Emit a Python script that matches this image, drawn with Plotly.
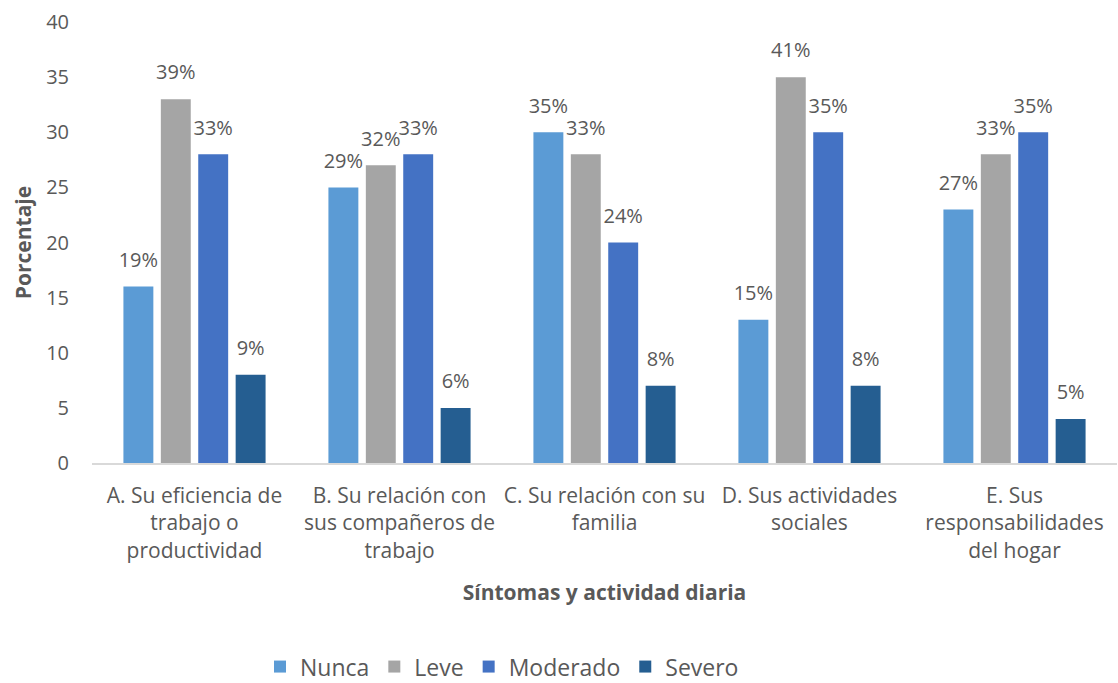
import plotly.graph_objects as go

categorias = [
    "A. Su eficiencia de<br>trabajo o<br>productividad",
    "B. Su relación con<br>sus compañeros de<br>trabajo",
    "C. Su relación con su<br>familia",
    "D. Sus actividades<br>sociales",
    "E. Sus<br>responsabilidades<br>del hogar",
]
nunca = [16, 25, 30, 13, 23]
leve = [33, 27, 28, 35, 28]
moderado = [28, 28, 20, 30, 30]
severo = [8, 5, 7, 7, 4]

series = [
    ("Nunca", nunca, "#5B9BD5"),
    ("Leve", leve, "#A5A5A5"),
    ("Moderado", moderado, "#4472C4"),
    ("Severo", severo, "#255E91"),
]

totales = [sum(v) for v in zip(nunca, leve, moderado, severo)]

FONT = "Open Sans"
GRIS = "#595959"

fig = go.Figure()
for nombre, valores, color in series:
    fig.add_trace(go.Bar(
        name=nombre,
        x=categorias,
        y=valores,
        offsetgroup=nombre,
        marker=dict(color=color, line=dict(width=0)),
    ))

# percentage labels, lifted slightly above each bar by an invisible marker
for nombre, valores, color in series:
    etiquetas = [f"{round(v / t * 100)}%" for v, t in zip(valores, totales)]
    fig.add_trace(go.Scatter(
        x=categorias,
        y=valores,
        offsetgroup=nombre,
        mode="markers+text",
        marker=dict(size=22, opacity=0),
        text=etiquetas,
        textposition="top center",
        textfont=dict(family=FONT, size=20, color=GRIS),
        showlegend=False,
        hoverinfo="skip",
        cliponaxis=False,
    ))

fig.update_layout(
    width=1118,
    height=683,
    barmode="group",
    scattermode="group",
    bargap=0.27,
    bargroupgap=0.2,
    plot_bgcolor="white",
    paper_bgcolor="white",
    margin=dict(l=92, r=1, t=22, b=220, autoexpand=False),
    font=dict(family=FONT, size=20, color=GRIS),
    legend=dict(
        orientation="h",
        x=0.40,
        xanchor="center",
        yref="container",
        y=0.024,
        yanchor="middle",
        font=dict(family=FONT, size=23, color=GRIS),
        traceorder="normal",
    ),
    xaxis=dict(
        automargin=False,
        showline=True,
        linecolor="#D9D9D9",
        linewidth=1.5,
        ticks="",
        ticklabelstandoff=13,
        tickfont=dict(family=FONT, size=21, color=GRIS),
        title=dict(
            text="<b>Síntomas y actividad diaria</b>",
            font=dict(family=FONT, size=21, color=GRIS),
            standoff=23,
        ),
    ),
    yaxis=dict(
        automargin=False,
        range=[0, 40],
        dtick=5,
        showgrid=False,
        zeroline=False,
        showline=False,
        ticks="",
        ticklabelstandoff=22,
        tickfont=dict(family=FONT, size=20, color=GRIS),
        title=dict(
            text="<b>Porcentaje</b>",
            font=dict(family=FONT, size=21, color=GRIS),
            standoff=8,
        ),
    ),
)

fig.write_html("out.html")
